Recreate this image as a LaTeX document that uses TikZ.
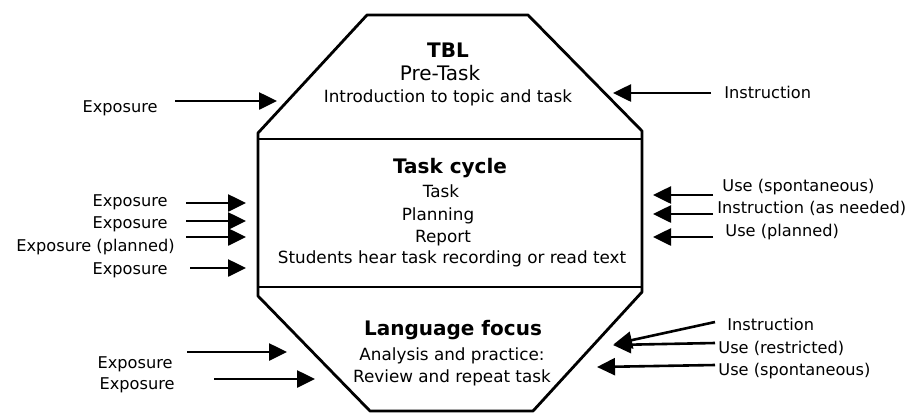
\documentclass[tikz,border=0pt]{standalone}
\usepackage{fontspec}
\setmainfont{DejaVu Sans}
\usepackage{tikz}
\usetikzlibrary{arrows.meta}

\begin{document}
\begin{tikzpicture}[x=0.5pt,y=-0.5pt,
    txt/.style={inner sep=0pt,anchor=base,font=\fontsize{8.4}{10}\selectfont},
    head/.style={inner sep=0pt,anchor=base,font=\fontsize{10}{12}\selectfont\bfseries},
    lft/.style={inner sep=0pt,anchor=base east,font=\fontsize{8.1}{10}\selectfont},
    rgt/.style={inner sep=0pt,anchor=base west,font=\fontsize{8.1}{10}\selectfont},
    arr/.style={line width=1.3pt,-{Triangle[length=9pt,width=8.5pt]}}]
\useasboundingbox (0,0) rectangle (922,414);

%octagon and the two dividers
\draw[line width=1.4pt,line join=round] (367,15) -- (528,15) -- (642,131) -- (642,292)
    -- (533,411) -- (370,411) -- (258,296) -- (258,133) -- cycle;
\draw[line width=1.2pt] (258,139) -- (642,139);
\draw[line width=1.2pt] (258,287) -- (642,287);

\begin{scope}
    \node[head] (tbl) at (448,57) {TBL};
    \node[txt,font=\fontsize{10}{12}\selectfont] (pre) at (440,80) {Pre-Task};
    \node[txt] (intro) at (448,102) {Introduction to topic and task};
\end{scope}

\begin{scope}
    \node[head] (cyc) at (450,173) {Task cycle};
    \node[txt] (task) at (441,197) {Task};
    \node[txt] (plan) at (438,220) {Planning};
    \node[txt] (rep) at (443,242) {Report};
    \node[txt] (stud) at (452,263) {Students hear task recording or read text};
\end{scope}

\begin{scope}
    \node[head] (lang) at (453,335) {Language focus};
    \node[txt] (anal) at (452,360) {Analysis and practice:};
    \node[txt] (rev) at (452,382) {Review and repeat task};
\end{scope}

% left side
\node[lft] (x1) at (158,112) {Exposure};
\node[lft] (x2) at (168,206) {Exposure};
\node[lft] (x3) at (168,228) {Exposure};
\node[lft] (x4) at (175,251) {Exposure (planned)};
\node[lft] (x5) at (168,274) {Exposure};
\node[lft] (x6) at (173,368) {Exposure};
\node[lft] (x7) at (175,389) {Exposure};
\foreach \n/\xa/\ya/\xb/\yb in {1/175/101/277/101, 2/186/203/246/203,
    3/186/221/246/221, 4/186/237/246/237, 5/190/268/246/268,
    6/187/352/287/352, 7/214/379/315/379}{
    \coordinate (xs\n) at (\xa,\ya);
    \coordinate (xt\n) at (\xb,\yb);
    \draw [arr] (xs\n) -- (xt\n);}

% right side
\node[rgt] (y1) at (724,98) {Instruction};
\node[rgt] (y2) at (722,191) {Use (spontaneous)};
\node[rgt] (y3) at (717,213) {Instruction (as needed)};
\node[rgt] (y4) at (725,236) {Use (planned)};
\node[rgt] (y5) at (727,330) {Instruction};
\node[rgt] (y6) at (718,353) {Use (restricted)};
\node[rgt] (y7) at (718,375) {Use (spontaneous)};
\foreach \n/\xa/\ya/\xb/\yb in {1/711/93/613/93, 2/713/195/653/195,
    3/713/214/653/214, 4/713/237/653/237, 5/715/322/614/344,
    6/715/343/613/345, 7/715/365/597/367}{
    \coordinate (ys\n) at (\xa,\ya);
    \coordinate (yt\n) at (\xb,\yb);
    \draw [arr] (ys\n) -- (yt\n);}
\end{tikzpicture}
\end{document}
